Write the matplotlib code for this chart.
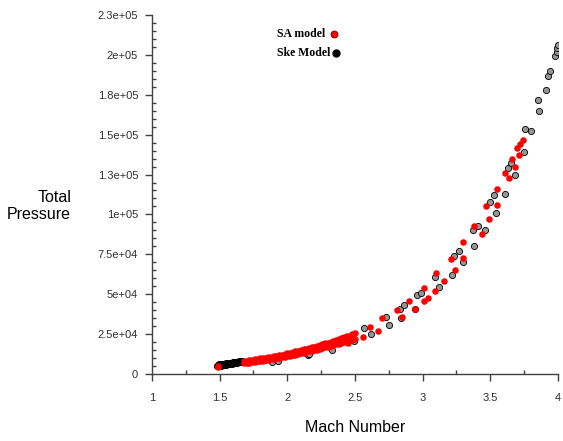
import matplotlib
matplotlib.use('Agg')
import matplotlib.pyplot as plt
from matplotlib.ticker import MultipleLocator, FixedLocator, FixedFormatter
from matplotlib.lines import Line2D

# SA model - dense band (Mach, total pressure)
sa_band_mach = [1.49, 1.68, 1.70, 1.72, 1.74, 1.76, 1.78, 1.80, 1.82, 1.84, 1.86, 1.88,
                1.90, 1.92, 1.94, 1.96, 1.98, 2.00, 2.02, 2.04, 2.06, 2.08, 2.10,
                2.12, 2.14, 2.16, 2.18, 2.20, 2.22, 2.24, 2.26, 2.28, 2.30, 2.32,
                2.34, 2.36, 2.38, 2.40, 2.42, 2.44, 2.46, 2.48, 2.50]
sa_band_upper = [5000, 8000, 8300, 8600, 8800, 9100, 9400, 9700, 10000, 10300, 10600, 10900,
                 11200, 11500, 11900, 12200, 12600, 12900, 13300, 13700, 14100, 14500, 14900,
                 15400, 15800, 16200, 16700, 17100, 17600, 18100, 18600, 19100, 19600, 20100,
                 20600, 21200, 21800, 22300, 22900, 23500, 24100, 24800, 25500]
sa_band_lower = [4600, 6600, 6900, 7100, 7400, 7600, 7900, 8200, 8400, 8700, 9000, 9300,
                 9500, 9900, 10200, 10500, 10800, 11100, 11500, 11800, 12200, 12500, 12900,
                 13300, 13700, 14100, 14500, 14900, 15300, 15800, 16200, 16700, 17100, 17600,
                 18000, 18500, 19000, 19500, 20000, 20500, 21100, 21600, 22200]

# SA model - scattered points above M = 2.5
sa_mach = [2.45, 2.56, 2.61, 2.67, 2.70, 2.81, 2.85, 2.90, 2.94, 3.01, 3.01, 3.04,
           3.09, 3.10, 3.16, 3.21, 3.24, 3.30, 3.30, 3.38, 3.44, 3.47, 3.49, 3.55,
           3.55, 3.61, 3.64, 3.66, 3.68, 3.70, 3.71, 3.72, 3.74]
sa_pressure = [19400, 23000, 29500, 27000, 35000, 40000, 36000, 46000, 41000, 54000, 46000, 47600,
               52000, 63000, 58000, 72000, 65000, 72700, 82700, 93000, 88000, 105000, 97000, 116000,
               106000, 126000, 123000, 135000, 130000, 141600, 137000, 144000, 146600]

# Ske model - dense band at low Mach
ske_band_mach = [1.48, 1.485, 1.49, 1.495, 1.50, 1.505, 1.51, 1.515, 1.52, 1.525, 1.53,
                 1.535, 1.54, 1.545, 1.55, 1.555, 1.56, 1.565, 1.57, 1.575, 1.58, 1.585,
                 1.59, 1.595, 1.60, 1.605, 1.61, 1.615, 1.62, 1.625, 1.63, 1.635, 1.64,
                 1.645, 1.65, 1.655, 1.66, 1.665, 1.67]
ske_band_pressure = [4800, 5900, 5000, 6000, 5200, 6100, 5300, 6200, 5500, 6300, 5600,
                     6400, 5800, 6600, 5900, 6700, 6000, 6800, 6200, 7000, 6300, 7100,
                     6500, 7200, 6600, 7300, 6800, 7500, 6900, 7600, 7100, 7700, 7200,
                     7900, 7400, 8000, 7500, 8100, 7700]

# Ske model - scattered points
ske_mach = [1.89, 1.93, 2.15, 2.16, 2.33, 2.34, 2.49, 2.57, 2.62, 2.73, 2.75, 2.83,
            2.84, 2.86, 2.94, 2.96, 2.99, 3.09, 3.12, 3.22, 3.23, 3.27, 3.30, 3.37,
            3.38, 3.41, 3.46, 3.50, 3.53, 3.54, 3.61, 3.63, 3.65, 3.68, 3.75, 3.76,
            3.80, 3.85, 3.86, 3.91, 3.93, 3.94, 3.98, 3.99, 3.99, 4.00]
ske_pressure = [7500, 8300, 11900, 12500, 15000, 19400, 20700, 29000, 25000, 36000, 30700, 41000,
                35000, 43000, 40700, 49500, 51000, 61000, 54500, 62000, 74000, 77000, 70000, 90000,
                80000, 93000, 90000, 108000, 112000, 101000, 113000, 129000, 132000, 125000, 139000, 153500,
                152000, 172000, 165000, 178000, 187000, 190000, 199000, 202000, 204000, 206000]

xticks = [1, 1.5, 2, 2.5, 3, 3.5, 4]
xtick_labels = ['1', '1.5', '2', '2.5', '3', '3.5', '4']
yticks = [0, 25000, 50000, 75000, 100000, 125000, 150000, 175000, 200000, 225000]
ytick_labels = ['0', '2.5e+04', '5e+04', '7.5e+04', '1e+05', '1.3e+05', '1.5e+05',
                '1.8e+05', '2e+05', '2.3e+05']

sans = ['Liberation Sans', 'DejaVu Sans']
serif = ['Liberation Serif', 'DejaVu Serif']

fig = plt.figure(figsize=(5.63, 4.41), dpi=100)
ax = fig.add_axes([0.27, 0.152, 0.721, 0.814])

ske_style = dict(s=20, facecolor='#959595', edgecolor='black', linewidths=0.6, zorder=3)
sa_style = dict(s=22, color='#ff0000', linewidths=0, zorder=4)

# the low-Mach Ske cluster is so dense that it reads as solid black
ax.scatter(ske_band_mach, ske_band_pressure, s=20, facecolor='#151515',
           edgecolor='black', linewidths=0.6, zorder=3)
ax.scatter(ske_mach, ske_pressure, **ske_style)
ax.scatter(sa_band_mach, sa_band_upper, **sa_style)
ax.scatter(sa_band_mach, sa_band_lower, **sa_style)
ax.scatter(sa_mach, sa_pressure, **sa_style)

ax.set_xlim(1, 4)
ax.set_ylim(0, 225000)

for side in ['top', 'right']:
    ax.spines[side].set_visible(False)
for side in ['left', 'bottom']:
    ax.spines[side].set_color('#404040')
    ax.spines[side].set_linewidth(1.0)

ax.xaxis.set_major_locator(FixedLocator(xticks))
ax.xaxis.set_major_formatter(FixedFormatter(xtick_labels))
ax.xaxis.set_minor_locator(MultipleLocator(0.25))
ax.yaxis.set_major_locator(FixedLocator(yticks))
ax.yaxis.set_major_formatter(FixedFormatter(ytick_labels))
ax.yaxis.set_minor_locator(MultipleLocator(5000))

ax.tick_params(which='major', direction='out', length=5, width=1, color='#404040',
               labelsize=8, labelcolor='#303030')
ax.tick_params(axis='x', which='major', pad=9)
ax.tick_params(axis='y', which='major', pad=5)
ax.tick_params(which='minor', direction='in', length=3, width=1, color='#404040')
for lab in ax.get_xticklabels() + ax.get_yticklabels():
    lab.set_family(sans)

fig.text(71 / 563, 1 - 206 / 441, 'Total\nPressure', ha='right', va='center',
         fontsize=11.5, family=sans, linespacing=1.15)
fig.text(355 / 563, 1 - 427 / 441, 'Mach Number', ha='center', va='center',
         fontsize=11.5, family=sans)

# legend
fig.text(277 / 563, 1 - 34 / 441, 'SA model', ha='left', va='center',
         fontsize=8.5, fontweight='bold', family=serif)
fig.text(277 / 563, 1 - 53 / 441, 'Ske Model', ha='left', va='center',
         fontsize=8.5, fontweight='bold', family=serif)
fig.add_artist(Line2D([334 / 563], [1 - 34 / 441], marker='o', markersize=5,
                      color='#ff0000', markeredgecolor='#600000', markeredgewidth=0.6,
                      linestyle='none', transform=fig.transFigure))
fig.add_artist(Line2D([336 / 563], [1 - 53 / 441], marker='o', markersize=5,
                      color='black', linestyle='none', transform=fig.transFigure))

plt.savefig('out.png', dpi=100)
